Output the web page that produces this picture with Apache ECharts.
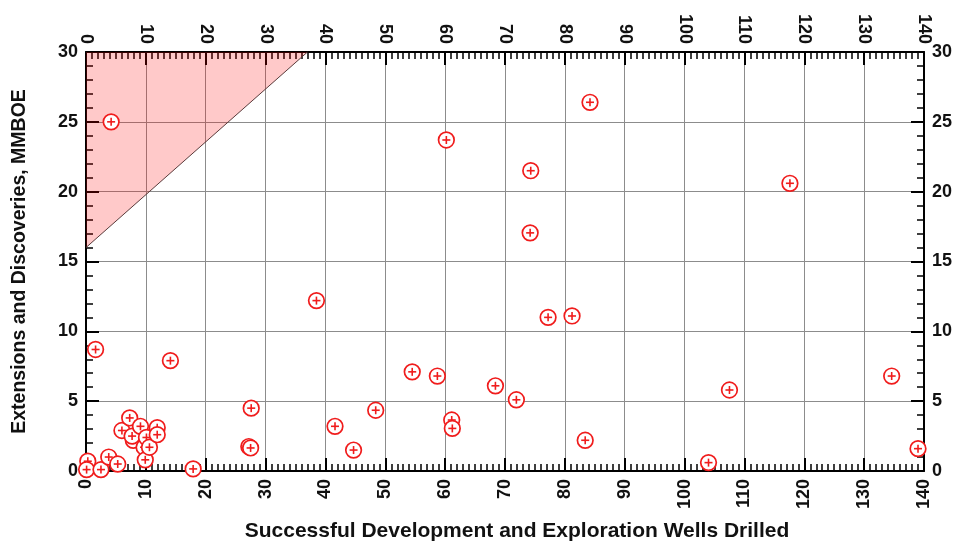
<!DOCTYPE html>
<html>
<head>
<meta charset="utf-8">
<script src="https://cdn.jsdelivr.net/npm/echarts@6/dist/echarts.min.js"></script>
<style>
  html, body { margin: 0; padding: 0; background: #fff; }
  #chart { width: 956px; height: 546px; }
</style>
</head>
<body>
<div id="chart"></div>
<script>
// Wells drilled (x) and extensions & discoveries in MMBOE (y), one entry per field
const wellsDrilled = [
  0.3, 0.1, 2.5, 3.8, 5.3, 6.0, 7.3, 7.9, 7.7, 9.1, 9.7, 9.9, 10.1, 10.6, 11.9, 11.9,
  1.6, 4.2, 14.1, 17.9, 27.2, 27.5, 27.6, 38.5, 41.6, 44.7, 48.4, 54.5, 58.7, 60.2,
  61.1, 61.2, 68.4, 71.9, 74.2, 74.3, 77.2, 81.2, 83.4, 84.2, 104.0, 107.5, 117.6,
  134.6, 139.0
];
const extensions = [
  0.7, 0.1, 0.1, 1.0, 0.5, 2.9, 3.8, 2.2, 2.5, 3.2, 1.7, 0.8, 2.4, 1.7, 3.1, 2.6,
  8.7, 25.0, 7.9, 0.15, 1.75, 1.65, 4.5, 12.2, 3.2, 1.5, 4.35, 7.1, 6.8, 23.7,
  3.65, 3.05, 6.1, 5.1, 17.05, 21.5, 11.0, 11.1, 2.2, 26.4, 0.6, 5.8, 20.6,
  6.8, 1.6
];

// Boundary of the shaded region (filled up to the top of the y range)
const boundaryX = [0, 37];
const boundaryY = [16, 30];

// Axis ranges and tick spacing
const xRange = [0, 140];
const xStep = 10;
const yRange = [0, 30];
const yStep = 5;

const points = wellsDrilled.map((x, i) => [x, extensions[i]]);
const boundary = boundaryX.map((x, i) => [x, boundaryY[i]]);

const FONT = '"Liberation Sans", Arial, sans-serif';
const RED = '#f01c1c';

const labelStyle = {
  fontFamily: FONT, fontSize: 18, fontWeight: 'bold', color: '#111'
};

function xAxisDef(position, withGrid) {
  return {
    type: 'value', position: position,
    min: xRange[0], max: xRange[1], interval: xStep,
    axisLine: { show: true, onZero: false, lineStyle: { color: '#000', width: 2 } },
    axisTick: { show: true, inside: true, length: 13, lineStyle: { color: '#000', width: 2 } },
    minorTick: { show: true, splitNumber: 10, length: 7, lineStyle: { color: '#000', width: 1.5 } },
    axisLabel: Object.assign({ rotate: 90, margin: 8 }, labelStyle),
    splitLine: { show: withGrid, lineStyle: { color: '#8c8c8c', width: 1 } }
  };
}

function yAxisDef(position, withGrid) {
  return {
    type: 'value', position: position,
    min: yRange[0], max: yRange[1], interval: yStep,
    axisLine: { show: true, onZero: false, lineStyle: { color: '#000', width: 2 } },
    axisTick: { show: true, inside: true, length: 13, lineStyle: { color: '#000', width: 2 } },
    minorTick: { show: true, splitNumber: 5, length: 7, lineStyle: { color: '#000', width: 1.5 } },
    axisLabel: Object.assign({ margin: 8 }, labelStyle),
    splitLine: { show: withGrid, lineStyle: { color: '#8c8c8c', width: 1 } }
  };
}

const xBottom = xAxisDef('bottom', true);
xBottom.name = 'Successful Development and Exploration Wells Drilled';
xBottom.nameLocation = 'middle';
xBottom.nameGap = 50;
xBottom.nameTextStyle = {
  fontFamily: FONT, fontSize: 21, fontWeight: 'bold', color: '#111',
  padding: [0, 0, 0, 24]
};

const yLeft = yAxisDef('left', true);
yLeft.name = 'Extensions and Discoveries, MMBOE';
yLeft.nameLocation = 'middle';
yLeft.nameGap = 56;
yLeft.nameTextStyle = { fontFamily: FONT, fontSize: 19.5, fontWeight: 'bold', color: '#111' };

const chart = echarts.init(document.getElementById('chart'), null, { renderer: 'canvas' });

chart.setOption({
  animation: false,
  backgroundColor: '#fff',
  grid: {
    left: 86, right: 32, top: 52, bottom: 75,
    containLabel: false, outerBoundsMode: 'none'
  },
  xAxis: [xBottom, xAxisDef('top', false)],
  yAxis: [yLeft, yAxisDef('right', false)],
  series: [
    {
      // shaded region above the boundary line
      type: 'line',
      data: boundary,
      symbol: 'none',
      lineStyle: { color: '#5a3a3a', width: 1 },
      areaStyle: { origin: 'end', color: 'rgba(255, 0, 0, 0.3)' },
      z: 1
    },
    {
      // circle-plus markers
      type: 'custom',
      data: points,
      clip: false,
      z: 5,
      renderItem: function (params, api) {
        const p = api.coord([api.value(0), api.value(1)]);
        const a = 4;
        return {
          type: 'group',
          children: [
            { type: 'circle', shape: { cx: p[0], cy: p[1], r: 7.8 },
              style: { fill: '#fff', stroke: RED, lineWidth: 1.7 } },
            { type: 'line', shape: { x1: p[0] - a, y1: p[1], x2: p[0] + a, y2: p[1] },
              style: { stroke: RED, lineWidth: 1.6 } },
            { type: 'line', shape: { x1: p[0], y1: p[1] - a, x2: p[0], y2: p[1] + a },
              style: { stroke: RED, lineWidth: 1.6 } }
          ]
        };
      }
    }
  ]
});
</script>
</body>
</html>
